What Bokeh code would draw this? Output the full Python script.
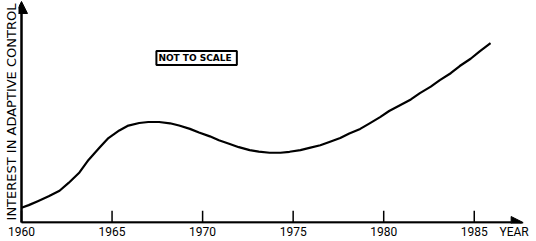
from bokeh.plotting import figure
from bokeh.models import Range1d, Arrow, NormalHead, Label, FixedTicker
from bokeh.embed import file_html
from bokeh.resources import INLINE

years = [1960.0, 1960.4, 1960.9, 1961.5, 1962.1, 1962.6, 1963.2, 1963.7,
         1964.3, 1964.8, 1965.4, 1965.9, 1966.5, 1967.0, 1967.6, 1968.2,
         1968.7, 1969.3, 1969.8, 1970.4, 1970.9, 1971.5, 1972.0, 1972.6,
         1973.1, 1973.7, 1974.3, 1974.8, 1975.4, 1975.9, 1976.5, 1977.0,
         1977.6, 1978.1, 1978.7, 1979.2, 1979.8, 1980.3, 1980.9, 1981.5,
         1982.0, 1982.6, 1983.1, 1983.7, 1984.2, 1984.8, 1985.3, 1985.9]
interest = [15, 17.7, 21.7, 26.7, 32.3, 40.3, 51, 63.7,
            76, 86, 93.7, 98.7, 101.3, 102.3, 102.3, 101,
            98.7, 95.3, 91.7, 87.7, 83.7, 80, 76.7, 73.7,
            72.2, 71, 71, 72, 73.7, 76, 78.7, 82,
            86, 90.7, 95.3, 100.7, 107.3, 113.5, 119.3, 125.3,
            131.7, 138.3, 145, 152, 159.3, 166.7, 174.3, 182.7]
tick_years = [1960, 1965, 1970, 1975, 1980, 1985]
y_label = "INTEREST IN ADAPTIVE CONTROL"
x_label = "YEAR"
x_label_at = 1987.2
note = "NOT TO  SCALE"

FONT = "DejaVu Sans"
TFONT = "Roboto"

p = figure(width=536, height=241, output_backend="svg", toolbar_location=None,
           x_range=Range1d(1959.834, 1988.437), y_range=Range1d(-1, 226),
           min_border_left=15, min_border_right=0, min_border_top=0,
           min_border_bottom=14)
p.outline_line_color = None
p.grid.visible = False
p.background_fill_color = "white"
p.border_fill_color = "white"

xa = p.xaxis[0]
xa.ticker = FixedTicker(ticks=tick_years + [x_label_at])
xa.major_label_overrides = {x_label_at: x_label}
xa.axis_line_color = None
xa.major_tick_in = 0
xa.major_tick_out = 0
xa.major_tick_line_color = None
xa.minor_tick_line_color = None
xa.major_label_standoff = 1
xa.major_label_text_font = TFONT
xa.major_label_text_font_size = "12px"
xa.major_label_text_color = "black"

ya = p.yaxis[0]
ya.ticker = FixedTicker(ticks=[])
ya.axis_line_color = None
ya.major_tick_in = 0
ya.major_tick_out = 0
ya.major_tick_line_color = None
ya.minor_tick_line_color = None
ya.major_label_standoff = 0
ya.axis_label = y_label
ya.axis_label_standoff = 0
ya.axis_label_text_font = FONT
ya.axis_label_text_font_style = "normal"
ya.axis_label_text_font_size = "13px"
ya.axis_label_text_color = "black"

# tick marks pointing into the plot
p.segment(x0=tick_years, y0=[0] * len(tick_years), x1=tick_years,
          y1=[12] * len(tick_years), line_color="black", line_width=1.5)

p.line(years, interest, line_color="black", line_width=2.2, line_join="round")

p.add_layout(Arrow(x_start=1960, y_start=0, x_end=1987.7, y_end=0,
                   line_color="black", line_width=2.5,
                   end=NormalHead(size=12, fill_color="black", line_color="black")))
p.add_layout(Arrow(x_start=1960, y_start=0, x_end=1960, y_end=225,
                   line_color="black", line_width=2.5,
                   end=NormalHead(size=12, fill_color="black", line_color="black")))

p.add_layout(Label(x=1969.67, y=167.5, text=note, text_align="center",
                   text_baseline="middle", text_font=FONT,
                   text_font_style="bold", text_font_size="9px",
                   text_color="black", border_line_color="black",
                   border_line_width=2, background_fill_color="white",
                   padding=2))

open("out.html", "w").write(file_html(p, INLINE))
